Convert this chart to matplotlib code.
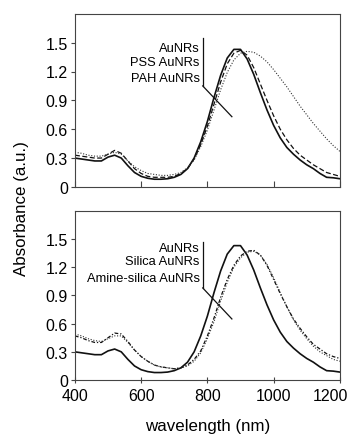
import matplotlib
matplotlib.use("Agg")
import matplotlib.pyplot as plt
import matplotlib.transforms as mtransforms

plt.rcParams['font.family'] = ['Liberation Sans', 'DejaVu Sans']

wl = [400, 420, 440, 460, 480, 500, 520, 540, 560, 580, 600, 620, 640, 660, 680,
      700, 720, 740, 760, 780, 800, 820, 840, 860, 880, 900, 920, 940, 960, 980,
      1000, 1020, 1040, 1060, 1080, 1100, 1120, 1140, 1160, 1180, 1200]

aunrs = [0.30, 0.29, 0.28, 0.27, 0.27, 0.31, 0.33, 0.30, 0.22, 0.15, 0.11, 0.09, 0.08,
         0.08, 0.085, 0.10, 0.13, 0.19, 0.30, 0.47, 0.68, 0.93, 1.16, 1.34, 1.43, 1.43,
         1.33, 1.17, 0.98, 0.80, 0.64, 0.51, 0.41, 0.34, 0.28, 0.23, 0.19, 0.14, 0.10,
         0.095, 0.085]

pss = [0.33, 0.32, 0.31, 0.30, 0.30, 0.34, 0.38, 0.35, 0.27, 0.19, 0.14, 0.11, 0.10,
       0.10, 0.10, 0.11, 0.14, 0.19, 0.29, 0.44, 0.63, 0.86, 1.09, 1.28, 1.39, 1.42,
       1.37, 1.24, 1.07, 0.90, 0.74, 0.60, 0.49, 0.40, 0.33, 0.28, 0.23, 0.19, 0.15,
       0.13, 0.11]

pah = [0.36, 0.35, 0.33, 0.32, 0.32, 0.34, 0.36, 0.34, 0.27, 0.21, 0.17, 0.14, 0.13,
       0.12, 0.12, 0.13, 0.15, 0.20, 0.28, 0.42, 0.59, 0.80, 1.01, 1.19, 1.32, 1.39,
       1.41, 1.40, 1.36, 1.30, 1.22, 1.13, 1.04, 0.94, 0.84, 0.75, 0.66, 0.58, 0.50,
       0.43, 0.37]

silica = [0.47, 0.45, 0.42, 0.40, 0.40, 0.45, 0.50, 0.49, 0.41, 0.32, 0.25, 0.20, 0.16,
          0.14, 0.13, 0.12, 0.13, 0.16, 0.22, 0.31, 0.47, 0.66, 0.88, 1.07, 1.22, 1.32,
          1.37, 1.38, 1.33, 1.22, 1.07, 0.92, 0.78, 0.65, 0.55, 0.46, 0.38, 0.33, 0.28,
          0.25, 0.23]

amine = [0.49, 0.47, 0.44, 0.42, 0.41, 0.44, 0.47, 0.47, 0.40, 0.32, 0.25, 0.20, 0.16,
         0.14, 0.13, 0.12, 0.13, 0.15, 0.20, 0.29, 0.44, 0.62, 0.84, 1.04, 1.20, 1.30,
         1.36, 1.37, 1.33, 1.23, 1.09, 0.93, 0.78, 0.64, 0.53, 0.44, 0.36, 0.30, 0.26,
         0.22, 0.20]

top_labels = ["AuNRs", "PSS AuNRs", "PAH AuNRs"]
bot_labels = ["AuNRs", "Silica AuNRs", "Amine-silica AuNRs"]
yticks = [0, 0.3, 0.6, 0.9, 1.2, 1.5]
ytick_labels = ["0", "0.3", "0.6", "0.9", "1.2", "1.5"]
xticks = [400, 600, 800, 1000, 1200]

fig = plt.figure(figsize=(3.5, 4.35), dpi=100)
ax1 = fig.add_axes([0.214, 0.568, 0.757, 0.398])
ax2 = fig.add_axes([0.214, 0.124, 0.757, 0.389])

c = '#111111'
for ax in (ax1, ax2):
    ax.set_xlim(400, 1200)
    ax.set_ylim(0, 1.8)
    ax.set_yticks(yticks)
    ax.set_yticklabels(ytick_labels)
    ax.set_xticks(xticks)
    for s in ax.spines.values():
        s.set_color('#444444')
        s.set_linewidth(0.8)
    ax.tick_params(axis='y', direction='out', length=3, labelsize=11.5, pad=2, color='#444444')
    ax.tick_params(axis='x', length=4, labelsize=11.5, color='#444444')

ax1.tick_params(axis='x', direction='in', labelbottom=False)
ax2.tick_params(axis='x', direction='inout', length=5, pad=3)

ax1.plot(wl, aunrs, color=c, lw=1.2, ls='-')
ax1.plot(wl, pss, color=c, lw=0.9, ls=(0, (4, 2)))
ax1.plot(wl, pah, color='#333333', lw=0.8, ls=(0, (1, 1.5)))

ax2.plot(wl, aunrs, color=c, lw=1.2, ls='-')
ax2.plot(wl, silica, color=c, lw=0.9, ls=(0, (3, 1.5, 1, 1.5)))
ax2.plot(wl, amine, color='#333333', lw=0.8, ls=(0, (1, 1.5)))

# legend-like annotations
for ax, labels, ys, vline, diag in (
        (ax1, top_labels, [1.44, 1.30, 1.13], (1.55, 1.05), (874, 0.73)),
        (ax2, bot_labels, [1.40, 1.27, 1.09], (1.47, 0.98), (874, 0.65))):
    for lab, y in zip(labels, ys):
        ax.text(777, y, lab, ha='right', va='center', fontsize=9.3)
    ax.plot([786, 786], list(vline), color=c, lw=0.9)
    ax.plot([786, diag[0]], [vline[1], diag[1]], color=c, lw=0.9)

ax2.set_xlabel("wavelength (nm)", fontsize=12.2, labelpad=11)
fig.text(0.062, 0.52, "Absorbance (a.u.)", rotation=90, ha='center', va='center', fontsize=12.2)

# keep the last tick label inside the canvas
fig.canvas.draw()
last = ax2.get_xticklabels()[-1]
last.set_transform(last.get_transform() + mtransforms.ScaledTranslation(-7 / 72, 0, fig.dpi_scale_trans))

fig.savefig("out.png", dpi=100)
